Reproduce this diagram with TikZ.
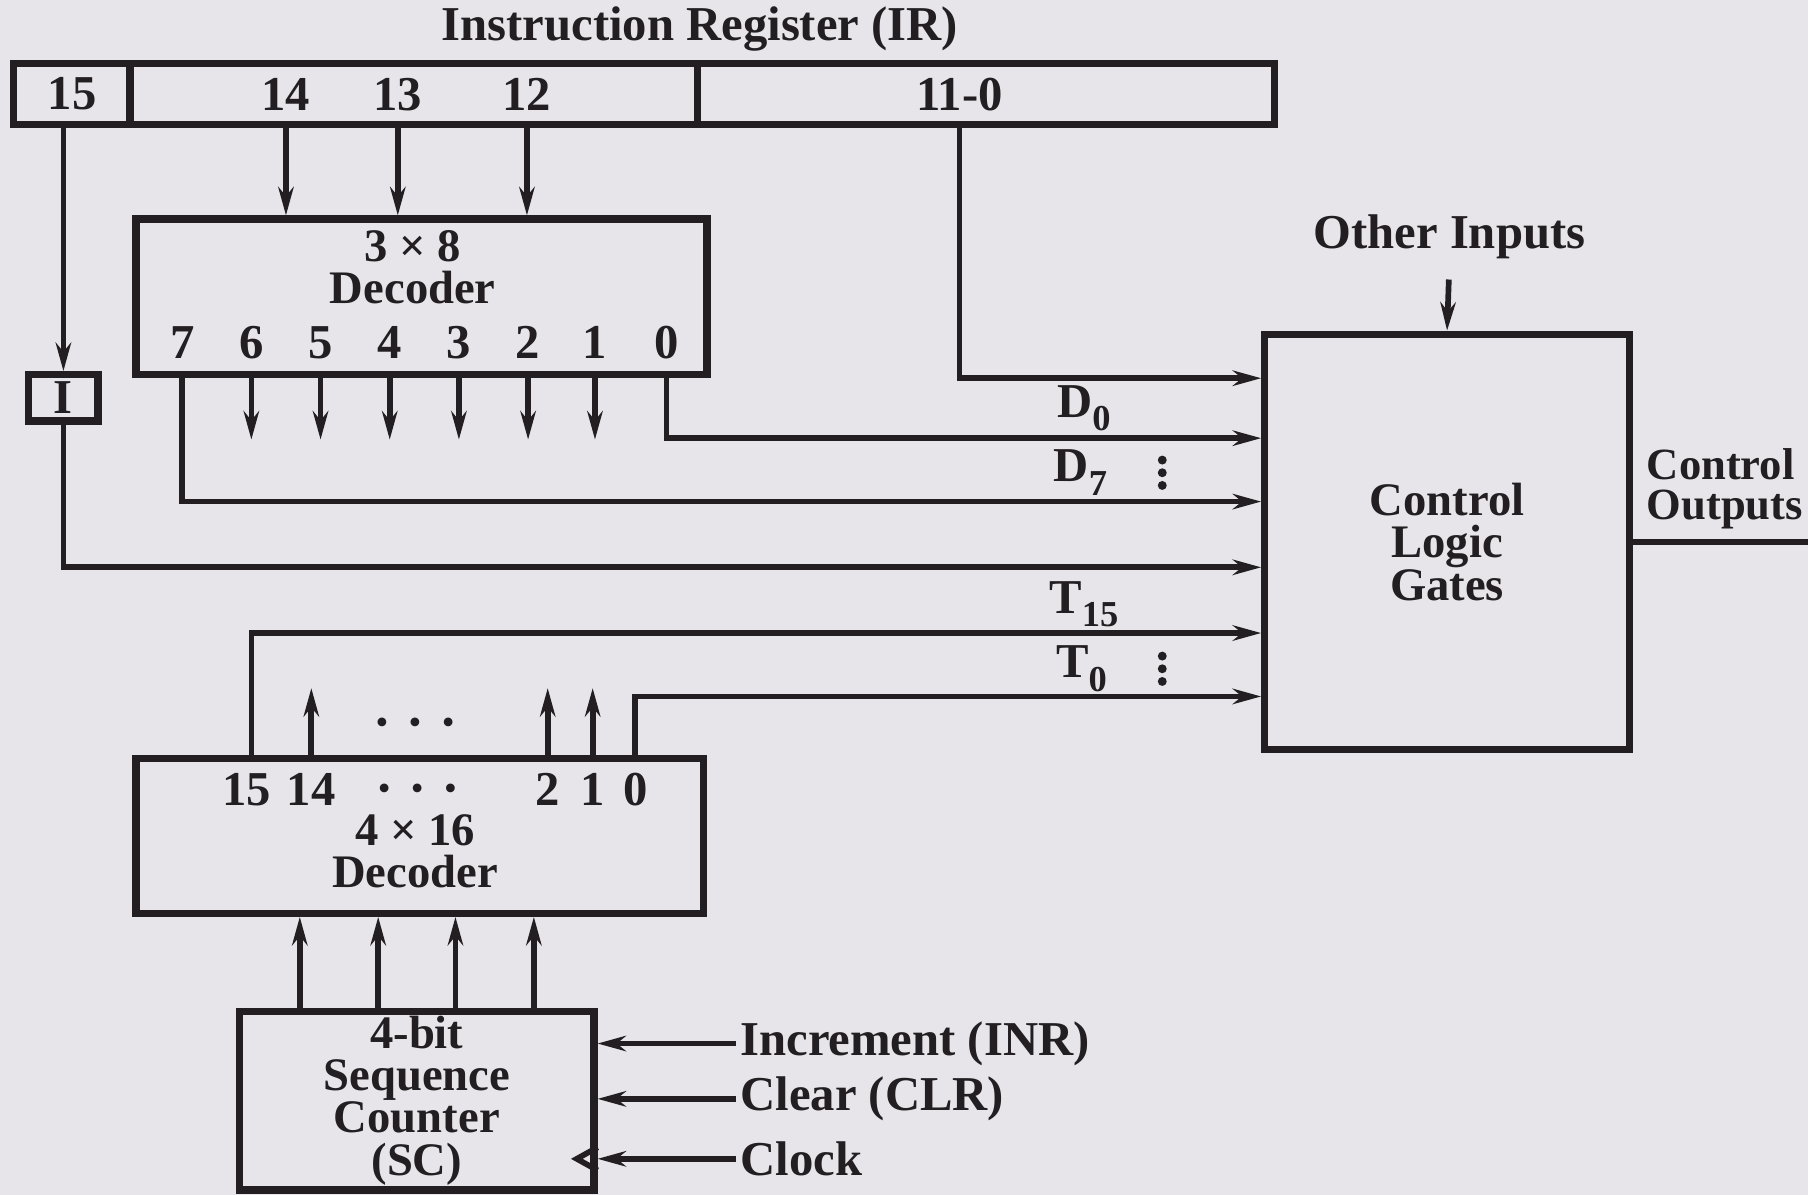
\documentclass[tikz,border=0pt]{standalone}
\usepackage{fontspec}
\setmainfont{Liberation Serif}
\usetikzlibrary{arrows.meta}
\definecolor{paper}{RGB}{231,229,233}
\definecolor{ink}{RGB}{34,30,34}
\newcommand{\lsub}[1]{\raisebox{-0.6ex}{\small #1}}
\newcommand{\tightlines}{\lineskiplimit=-6pt\relax}
\begin{document}
\begin{tikzpicture}[x=0.01cm,y=-0.01cm,
    every node/.style={font=\fontsize{12}{9.8}\selectfont\bfseries\tightlines,
      text=ink,inner sep=1pt},
    stack/.style={align=center,font=\fontsize{11.5}{10.4}\selectfont\bfseries\tightlines},
    blk/.style={draw=ink,line width=1.8pt,inner sep=0pt},
    wire/.style={draw=ink,line width=1.4pt},
    sig/.style={wire,-{Stealth[length=7pt,width=3.8pt]}},
    dots/.style={font=\fontsize{9}{9}\selectfont}]
  \fill[paper] (0,0) rectangle (1568,1036);
  \useasboundingbox (0,0) rectangle (1568,1036);

  \node (title) at (607,25) {Instruction Register (IR)};
  \node[blk,minimum width=1.01cm,minimum height=0.53cm] (ir15) at (62.5,81.5) {15};
  \node[blk,minimum width=4.92cm,minimum height=0.53cm] (irmid) at (359,81.5) {};
  \node[blk,minimum width=5.00cm,minimum height=0.53cm] (irlow) at (855,81.5) {};
  \node (b14) at (248,82) {14};
  \node (b13) at (345,82) {13};
  \node (b12) at (457,82) {12};
  \node (b110) at (832,82) {11-0};

  \node[blk,minimum width=4.95cm,minimum height=1.35cm] (dec38) at (365.5,257.5) {};
  \node[stack] (d38txt) at (358,232) {3 × 8\\Decoder};
  \foreach \n/\x in {7/158,6/218,5/278,4/338,3/398,2/458,1/516,0/578}
    \node (o\n) at (\x,297) {\n};
  \foreach \b in {14,13,12}
    \draw[sig] (b\b |- irmid.south) -- (b\b |- dec38.north);
  \foreach \n in {6,...,1}
    \draw[sig] (o\n |- dec38.south) -- ++(0,53);

  \node[blk,minimum width=0.6cm,minimum height=0.4cm] (ibox) at (55,345) {I};
  \draw[sig] (ibox |- ir15.south) -- (ibox.north);

  \node[blk,stack,minimum width=3.16cm,minimum height=3.6cm] (ctrl) at (1255,470)
    {Control\\Logic\\Gates};
  \node (oth) at (1257,205) {Other Inputs};
  \draw[sig,shorten <=4pt] (oth.south) -- (ctrl.north);
  \coordinate (outend) at (1568,470);
  \draw[wire] (ctrl.east) -- (outend);
  \node[anchor=west,align=left,font=\fontsize{11}{10}\selectfont\bfseries\tightlines]
    (cout) at (1424,424) {Control\\Outputs};

  \coordinate (rA) at (0,328);
  \coordinate (rD0) at (0,380);
  \coordinate (rD7) at (0,435);
  \coordinate (rI) at (0,492);
  \coordinate (rT15) at (0,549);
  \coordinate (rT0) at (0,604);
  \draw[sig] (b110 |- irlow.south) -- (b110 |- rA) -- (ctrl.west |- rA);
  \draw[sig] (o0 |- dec38.south) |- (ctrl.west |- rD0);
  \draw[sig] (o7 |- dec38.south) |- (ctrl.west |- rD7);
  \draw[sig] (ibox.south) |- (ctrl.west |- rI);
  \node (lD0) at (940,354) {D\lsub{0}};
  \node (lD7) at (937,410) {D\lsub{7}};
  \coordinate (vd1) at (1008,410);
  \foreach \d in {-11,0,11}
    \fill[ink] (vd1) ++(0,\d) circle (1.1pt);

  \node[blk,minimum width=4.92cm,minimum height=1.34cm] (dec416) at (364,725) {};
  \node[stack] (d416txt) at (360,738) {4 × 16\\Decoder};
  \foreach \n/\x in {15/214,14/270,2/475,1/514,0/551}
    \node (t\n) at (\x,685) {\n};
  \node[dots] (tdots) at (362,687) {\textbullet\hspace{5pt}\textbullet\hspace{5pt}\textbullet};
  \node[dots] (udots) at (360,630) {\textbullet\hspace{5pt}\textbullet\hspace{5pt}\textbullet};
  \foreach \n in {14,2,1}
    \draw[sig] (t\n |- dec416.north) -- ++(0,-58);
  \draw[sig] ([xshift=0.04cm]t15 |- dec416.north) |- (ctrl.west |- rT15);
  \draw[sig] (t0 |- dec416.north) |- (ctrl.west |- rT0);
  \node (lT15) at (940,524) {T\lsub{15}};
  \node (lT0) at (938,580) {T\lsub{0}};
  \coordinate (vd2) at (1008,580);
  \foreach \d in {-11,0,11}
    \fill[ink] (vd2) ++(0,\d) circle (1.1pt);

  \node[blk,stack,minimum width=3.07cm,minimum height=1.55cm] (sc) at (361.5,954.5)
    {4-bit\\Sequence\\Counter\\(SC)};
  \foreach \x in {260,328,395,463}
    \draw[sig] (\x,0 |- sc.north) -- (\x,0 |- dec416.south);
  \node[anchor=west] (inr) at (638,905) {Increment (INR)};
  \node[anchor=west] (clr) at (638,953) {Clear (CLR)};
  \node[anchor=west] (clk) at (638,1005) {Clock};
  \draw[sig] (inr.west) -- (sc.east |- inr);
  \draw[sig] (clr.west) -- (sc.east |- clr);
  \draw[sig] (clk.west) -- (sc.east |- clk);
  \draw[wire] (sc.east |- clk) ++(0,-10) -- ++(-18,10) -- ++(18,10);
\end{tikzpicture}
\end{document}
